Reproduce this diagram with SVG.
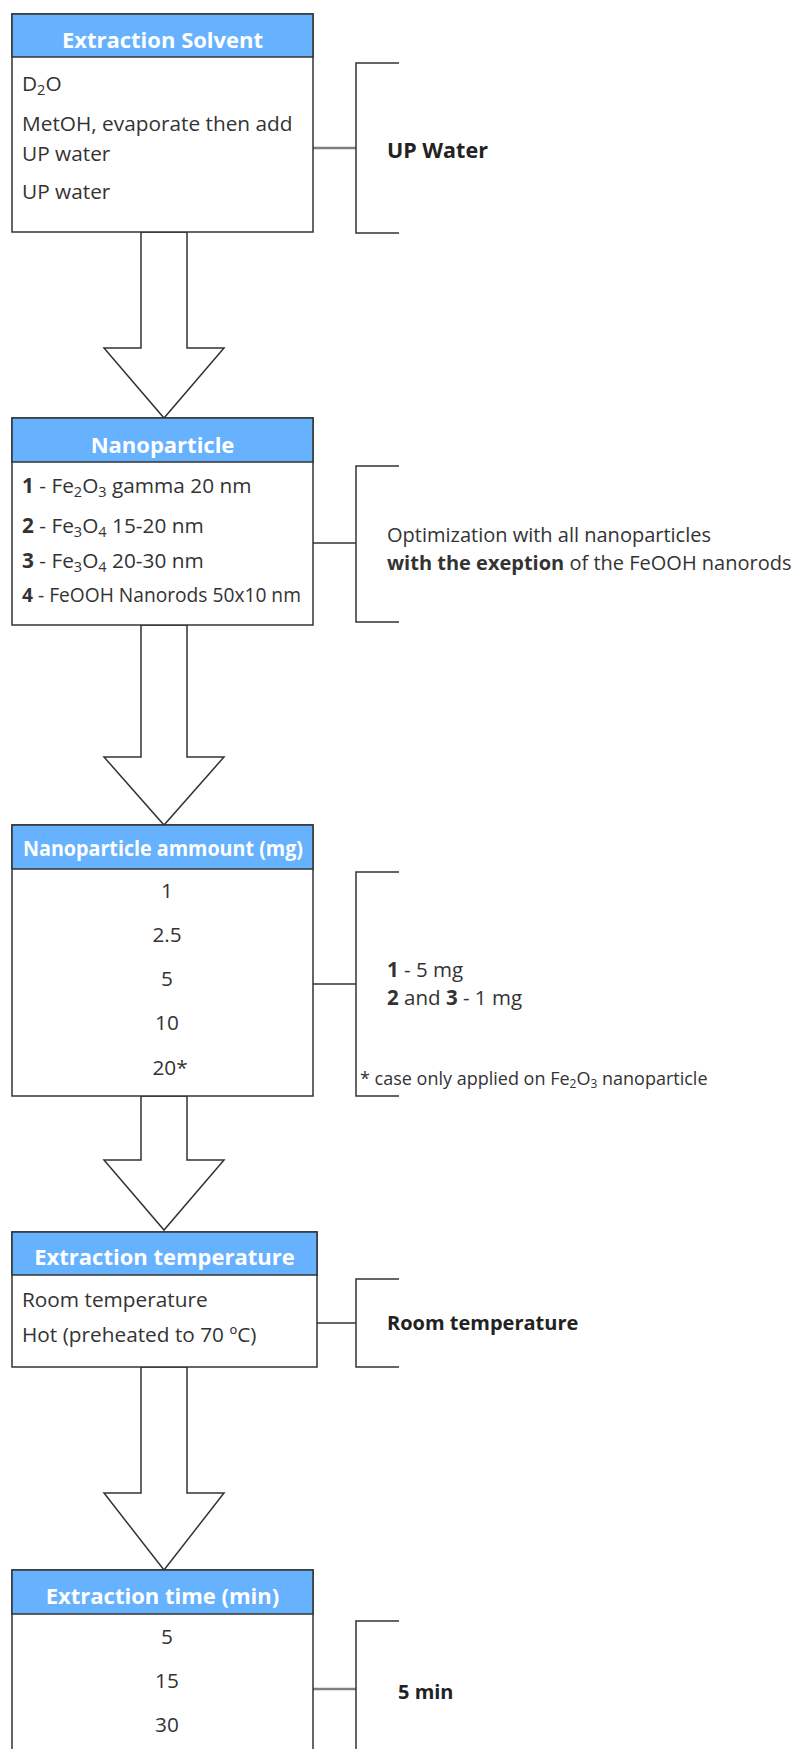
<svg xmlns="http://www.w3.org/2000/svg" width="798" height="1749" viewBox="0 0 798 1749">
<style>
.box{fill:#ffffff;stroke:#333333;stroke-width:1.5}
.hdr{fill:#66b2ff;stroke:#333333;stroke-width:1.5}
.ht{font-family:"Open Sans","Noto Sans",sans-serif;font-weight:bold;font-size:22px;fill:#ffffff;text-anchor:middle}
.t{font-family:"Open Sans","Noto Sans",sans-serif;font-size:20.8px;fill:#333333}
.c{text-anchor:middle}
.b{font-weight:bold}
.br{fill:none;stroke:#333333;stroke-width:1.5}
.ln{stroke:#333333;stroke-width:1.5}
.lg{stroke:#808080;stroke-width:2.5}
.arr{fill:#ffffff;stroke:#333333;stroke-width:1.5;stroke-linejoin:miter}
.bt{font-family:"Open Sans","Noto Sans",sans-serif;font-size:20px;font-weight:bold;fill:#222222}
.nt{font-family:"Open Sans","Noto Sans",sans-serif;font-size:20px;fill:#333333}
</style>
<g id="connectors">
<polygon class="arr" points="141,232 187,232 187,348 224,348 164,418 104,348 141,348"/>
<polygon class="arr" points="141,625 187,625 187,757 224,757 164,825 104,757 141,757"/>
<polygon class="arr" points="141,1096 187,1096 187,1160 224,1160 164,1230 104,1160 141,1160"/>
<polygon class="arr" points="141,1367 187,1367 187,1493 224,1493 164,1570 104,1493 141,1493"/>
<line class="lg" x1="313" y1="148" x2="356" y2="148"/>
<line class="ln" x1="313" y1="543" x2="356" y2="543"/>
<line class="ln" x1="313" y1="984" x2="356" y2="984"/>
<line class="ln" x1="314" y1="1323" x2="356" y2="1323"/>
<line class="lg" x1="313" y1="1689" x2="356" y2="1689"/>
</g>
<g id="node-solvent">
<rect class="box" x="12" y="14" width="301" height="218"/>
<rect class="hdr" x="12" y="14" width="301" height="43"/>
<text class="ht" x="162.5" y="48">Extraction Solvent</text>
<text class="t" x="22" y="91">D<tspan style="font-size:14.5px" dy="4">2</tspan><tspan dy="-4">O</tspan></text>
<text class="t" x="22" y="131">MetOH, evaporate then add</text>
<text class="t" x="22" y="161">UP water</text>
<text class="t" x="22" y="199">UP water</text>
</g>
<g id="bracket-solvent">
<path class="br" d="M399,63 H356 V233 H399"/>
<text class="bt" x="387" y="158" style="font-size:21.5px">UP Water</text>
</g>
<g id="node-nanoparticle">
<rect class="box" x="12" y="418" width="301" height="207"/>
<rect class="hdr" x="12" y="418" width="301" height="44"/>
<text class="ht" x="162.5" y="453">Nanoparticle</text>
<text class="t" x="22" y="493"><tspan class="b">1</tspan> - Fe<tspan style="font-size:14.5px" dy="4">2</tspan><tspan dy="-4">O</tspan><tspan style="font-size:14.5px" dy="4">3</tspan><tspan dy="-4"> gamma 20 nm</tspan></text>
<text class="t" x="22" y="533"><tspan class="b">2</tspan> - Fe<tspan style="font-size:14.5px" dy="4">3</tspan><tspan dy="-4">O</tspan><tspan style="font-size:14.5px" dy="4">4</tspan><tspan dy="-4"> 15-20 nm</tspan></text>
<text class="t" x="22" y="568"><tspan class="b">3</tspan> - Fe<tspan style="font-size:14.5px" dy="4">3</tspan><tspan dy="-4">O</tspan><tspan style="font-size:14.5px" dy="4">4</tspan><tspan dy="-4"> 20-30 nm</tspan></text>
<text class="t" x="22" y="602" style="font-size:19.2px"><tspan class="b">4</tspan> - FeOOH Nanorods 50x10 nm</text>
</g>
<g id="bracket-nanoparticle">
<path class="br" d="M399,466 H356 V622 H399"/>
<text class="nt" x="387" y="542">Optimization with all nanoparticles</text>
<text class="nt" x="387" y="570"><tspan class="b">with the exeption</tspan> of the FeOOH nanorods</text>
</g>
<g id="node-amount">
<rect class="box" x="12" y="825" width="301" height="271"/>
<rect class="hdr" x="12" y="825" width="301" height="44"/>
<text class="ht" x="163" y="856" style="font-size:20.5px" textLength="280" lengthAdjust="spacingAndGlyphs">Nanoparticle ammount (mg)</text>
<text class="t c" x="167" y="898">1</text>
<text class="t c" x="167" y="942">2.5</text>
<text class="t c" x="167" y="986">5</text>
<text class="t c" x="167" y="1030">10</text>
<text class="t c" x="170" y="1075">20*</text>
</g>
<g id="bracket-amount">
<path class="br" d="M399,872 H356 V1096 H399"/>
<text class="nt" x="387" y="977" style="font-size:20.5px"><tspan class="b">1</tspan> - 5 mg</text>
<text class="nt" x="387" y="1005" style="font-size:20.5px"><tspan class="b">2</tspan> and <tspan class="b">3</tspan> - 1 mg</text>
<text class="nt" x="360" y="1085" style="font-size:18px">* case only applied on Fe<tspan style="font-size:12px" dy="3">2</tspan><tspan dy="-3">O</tspan><tspan style="font-size:12px" dy="3">3</tspan><tspan dy="-3">  nanoparticle</tspan></text>
</g>
<g id="node-temperature">
<rect class="box" x="12" y="1232" width="305" height="135"/>
<rect class="hdr" x="12" y="1232" width="305" height="43"/>
<text class="ht" x="164.5" y="1265">Extraction temperature</text>
<text class="t" x="22" y="1307">Room temperature</text>
<text class="t" x="22" y="1342">Hot (preheated to 70 ºC)</text>
</g>
<g id="bracket-temperature">
<path class="br" d="M399,1279 H356 V1367 H399"/>
<text class="bt" x="387" y="1330">Room temperature</text>
</g>
<g id="node-time">
<rect class="box" x="12" y="1570" width="301" height="200"/>
<rect class="hdr" x="12" y="1570" width="301" height="44"/>
<text class="ht" x="162.5" y="1604">Extraction time (min)</text>
<text class="t c" x="167" y="1644">5</text>
<text class="t c" x="167" y="1688">15</text>
<text class="t c" x="167" y="1732">30</text>
</g>
<g id="bracket-time">
<path class="br" d="M399,1621 H356 V1760"/>
<text class="bt" x="398" y="1699">5 min</text>
</g>
</svg>
